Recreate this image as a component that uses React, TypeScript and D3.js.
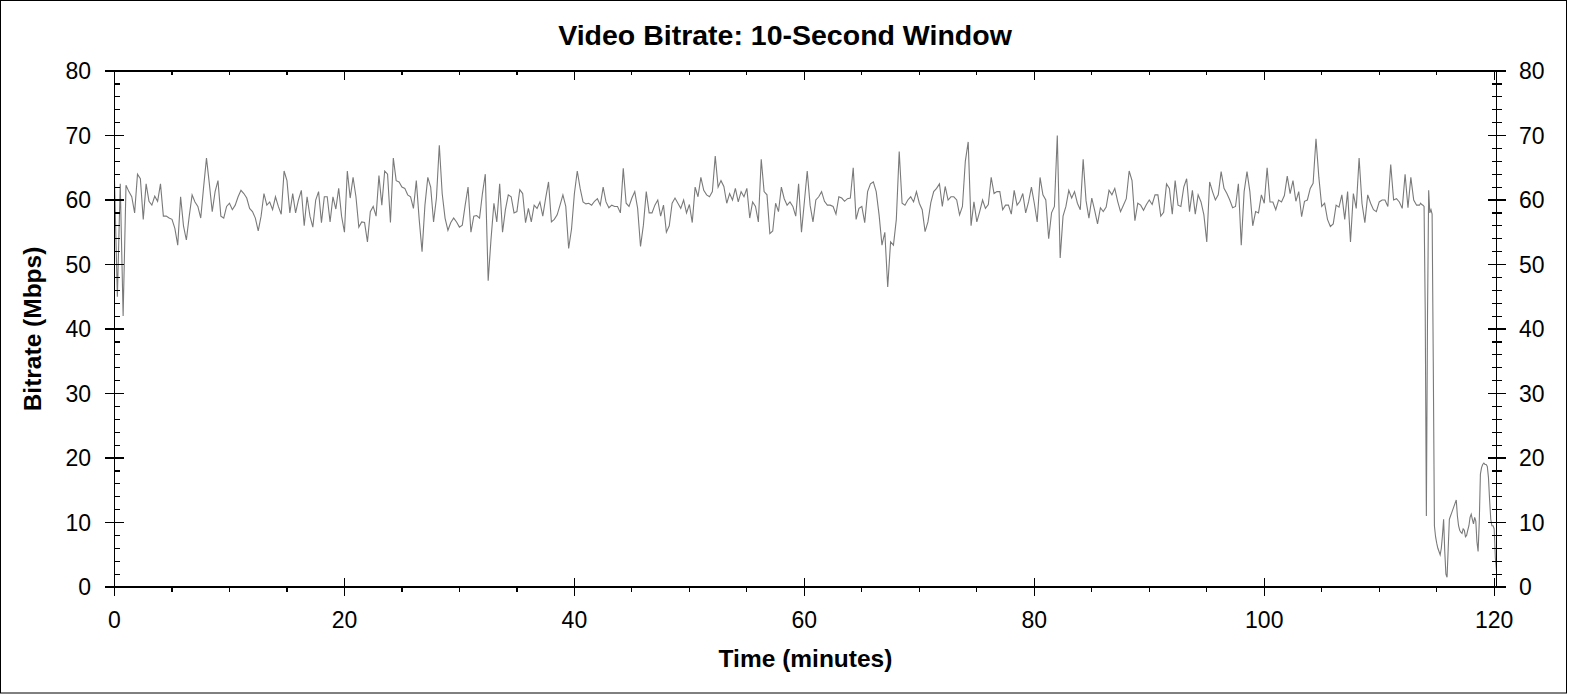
import React from 'react';
import * as d3 from 'd3';

// bitrate (Mbps), one reading every 0.25 min from 0 to 113.5 min
const mainStep = 0.25;
const mainValues = [
  63.0, 45.0, 62.5, 42.0, 62.3, 61.3, 60.5, 58.0, 64.0, 63.3,
  57.0, 62.5, 59.8, 59.2, 60.6, 59.8, 62.5, 57.5, 57.5, 57.2,
  57.0, 55.6, 53.0, 60.5, 56.0, 53.8, 57.5, 60.8, 59.7, 59.0,
  57.2, 62.0, 66.5, 62.5, 58.2, 61.3, 63.0, 57.5, 57.2, 59.0,
  59.5, 58.5, 59.2, 60.5, 61.5, 61.0, 60.3, 58.7, 58.2, 57.2,
  55.2, 57.5, 61.0, 59.2, 59.7, 58.5, 60.5, 59.0, 57.8, 64.5,
  63.0, 58.0, 61.0, 58.0, 60.0, 61.5, 56.0, 60.5, 57.5, 55.8,
  60.0, 61.3, 56.5, 60.5, 60.5, 56.6, 60.5, 58.6, 61.8, 57.5,
  55.0, 64.5, 60.3, 63.5, 60.5, 55.8, 56.6, 56.5, 53.5, 58.2,
  59.0, 57.5, 63.8, 59.2, 64.5, 64.0, 56.5, 66.5, 63.0, 62.8,
  62.0, 61.8, 60.8, 60.5, 58.7, 63.0, 57.0, 52.0, 59.2, 63.5,
  62.0, 56.6, 60.3, 68.5, 61.0, 57.2, 55.3, 56.5, 57.2, 56.6,
  55.8, 56.1, 59.2, 62.0, 55.0, 57.5, 57.6, 57.2, 61.0, 64.0,
  47.5, 54.0, 59.5, 56.6, 62.5, 55.0, 58.5, 60.8, 60.5, 58.0,
  58.2, 61.6, 61.0, 56.5, 58.7, 56.6, 59.2, 58.7, 59.7, 57.5,
  60.3, 62.8, 56.6, 57.0, 57.7, 59.2, 60.8, 59.0, 52.5, 55.5,
  61.0, 64.5, 61.8, 59.7, 59.4, 59.5, 59.2, 59.8, 60.2, 59.2,
  62.0, 59.7, 58.8, 59.2, 59.0, 59.0, 58.0, 64.9, 59.5, 59.0,
  60.3, 61.3, 58.7, 52.8, 56.1, 61.3, 58.0, 58.0, 59.2, 60.0,
  57.5, 59.2, 55.0, 56.0, 59.5, 60.3, 59.5, 58.7, 60.0, 58.0,
  59.3, 56.5, 62.0, 60.5, 63.5, 61.5, 60.8, 60.5, 61.3, 66.8,
  62.0, 63.0, 62.1, 59.5, 61.0, 60.0, 61.8, 59.7, 61.3, 60.5,
  61.8, 57.2, 59.7, 59.0, 56.6, 66.3, 61.3, 60.8, 54.8, 55.2,
  59.5, 58.2, 62.0, 60.2, 59.2, 59.7, 59.0, 57.5, 62.5, 55.0,
  59.7, 64.5, 59.2, 56.6, 60.0, 60.5, 61.3, 59.8, 59.2, 59.2,
  59.0, 57.8, 60.5, 60.3, 59.8, 60.2, 60.3, 65.0, 57.0, 58.7,
  59.0, 56.5, 61.3, 62.5, 62.8, 61.3, 57.7, 53.0, 55.0, 46.5,
  53.5, 53.0, 57.0, 67.5, 59.5, 59.2, 60.0, 60.5, 59.7, 61.3,
  59.5, 58.5, 55.1, 56.6, 59.6, 61.3, 61.8, 62.5, 59.0, 62.1,
  60.0, 60.5, 60.5, 60.0, 57.7, 59.0, 66.0, 69.0, 56.0, 59.7,
  56.6, 58.2, 60.0, 58.7, 59.3, 63.5, 61.0, 61.3, 61.3, 58.5,
  59.2, 59.2, 57.8, 61.5, 59.2, 59.8, 61.0, 58.0, 59.7, 62.0,
  59.5, 56.6, 63.5, 60.8, 60.0, 54.0, 58.0, 59.0, 70.0, 51.0,
  57.5, 59.0, 61.5, 60.3, 61.3, 59.5, 58.5, 66.3, 59.9, 57.2,
  60.3, 58.4, 56.3, 58.8, 58.2, 58.9, 61.5, 60.8, 61.8, 59.8,
  58.2, 59.2, 60.2, 64.5, 63.0, 56.8, 59.5, 59.2, 58.4, 59.3,
  60.0, 59.3, 60.8, 60.8, 57.5, 58.1, 62.5, 61.8, 57.8, 63.0,
  59.2, 59.0, 62.0, 63.3, 58.2, 61.5, 57.8, 60.8, 59.7, 57.7,
  53.5, 62.8, 61.3, 60.0, 60.8, 64.4, 61.8, 61.0, 60.0, 58.8,
  59.0, 62.5, 53.0, 61.3, 64.4, 61.3, 56.0, 58.2, 58.0, 60.8,
  59.5, 65.0, 59.7, 59.7, 58.5, 60.0, 59.7, 60.7, 63.7, 61.0,
  63.0, 59.8, 61.3, 57.4, 59.8, 60.0, 61.8, 62.6, 69.5, 63.5,
  59.0, 59.5, 57.0, 55.9, 56.3, 59.2, 58.9, 60.8, 57.0, 61.3,
  53.5, 61.0, 58.7, 66.5, 59.5, 56.5, 60.8, 59.5, 58.5, 58.2,
  59.7, 60.0, 60.0, 59.0, 65.5, 60.0, 60.2, 59.7, 58.7, 64.0,
  58.8, 63.5, 60.0, 59.2, 59.2,
];

// the end of the file drops off fast, so it is read at 0.1 min from 113.6 min
const tailStart = 113.6;
const tailStep = 0.1;
const tailValues = [
  59.5, 59.3, 59.2, 59.0, 43.0, 11.0, 42.0, 61.5, 58.0, 58.5,
  57.8, 35.0, 9.5, 7.8, 6.8, 6.0, 5.5, 5.0, 6.0, 8.0,
  10.5, 5.5, 2.0, 1.5, 6.0, 10.5, 11.0, 11.5, 12.0, 12.5,
  13.0, 13.5, 11.0, 9.5, 8.8, 8.5, 8.3, 9.0, 8.8, 7.8,
  8.0, 8.8, 9.5, 10.8, 11.3, 10.5, 9.8, 10.8, 10.2, 7.0,
  5.5, 10.0, 17.5, 18.5, 19.0, 19.2, 19.0, 19.0, 18.7, 17.0,
  13.5, 10.5, 9.5, 9.5, 9.0, 4.5, 2.5,
];

const xMajorTicks = [0, 20, 40, 60, 80, 100, 120];
const yMajorTicks = [0, 10, 20, 30, 40, 50, 60, 70, 80];

const font = '"Liberation Sans", Arial, sans-serif';

export default function App() {
  const width = 1570;
  const height = 695;
  const left = 114.5;
  const right = 1496.5;
  const top = 71;
  const bottom = 587;

  const x = d3.scaleLinear().domain([0, 120.2]).range([left, right]);
  const y = d3.scaleLinear().domain([0, 80]).range([bottom, top]);

  const points: [number, number][] = [
    ...mainValues.map((v, i) => [i * mainStep, v] as [number, number]),
    ...tailValues.map((v, i) => [tailStart + i * tailStep, v] as [number, number]),
  ];

  const line = d3
    .line<[number, number]>()
    .x((d) => x(d[0]))
    .y((d) => y(d[1]));

  const xMinor = d3.range(0, 121, 5).filter((t) => t % 20 !== 0);
  const yMinor = d3.range(0, 81, 2).filter((v) => v % 10 !== 0);

  return (
    <>
      <style>{'body{margin:0}'}</style>
      <svg width={width} height={height} style={{ display: 'block', background: '#fff' }}>
        <rect x={0.5} y={0.5} width={1566} height={692.5} fill="#fff" stroke="#000" />

        <text
          x={785}
          y={45}
          textAnchor="middle"
          fontFamily={font}
          fontWeight="bold"
          fontSize={28.5}
        >
          Video Bitrate: 10-Second Window
        </text>

        <path d={line(points) || ''} fill="none" stroke="#7a7a7a" strokeWidth={1.1} />

        {/* frame */}
        <g stroke="#000" strokeWidth={1.2} shapeRendering="crispEdges">
          <line x1={105} x2={1506} y1={top} y2={top} />
          <line x1={105} x2={1506} y1={bottom} y2={bottom} />
          <line x1={left} x2={left} y1={top} y2={bottom} />
          <line x1={right} x2={right} y1={top} y2={bottom} />

          {xMajorTicks.map((t) => (
            <g key={'xM' + t}>
              <line x1={x(t)} x2={x(t)} y1={bottom - 9} y2={bottom + 9} />
              <line x1={x(t)} x2={x(t)} y1={top} y2={top + 9} />
            </g>
          ))}
          {xMinor.map((t) => (
            <g key={'xm' + t}>
              <line x1={x(t)} x2={x(t)} y1={bottom} y2={bottom + 5} />
              <line x1={x(t)} x2={x(t)} y1={top} y2={top + 4} />
            </g>
          ))}
          {yMajorTicks.map((v) => (
            <g key={'yM' + v}>
              <line x1={105} x2={124} y1={y(v)} y2={y(v)} />
              <line x1={right - 9} x2={right + 9} y1={y(v)} y2={y(v)} />
            </g>
          ))}
          {yMinor.map((v) => (
            <g key={'ym' + v}>
              <line x1={left} x2={left + 5} y1={y(v)} y2={y(v)} />
              <line x1={right - 5} x2={right + 5} y1={y(v)} y2={y(v)} />
            </g>
          ))}
        </g>

        <g fontFamily={font} fontSize={23}>
          {xMajorTicks.map((t) => (
            <text key={'xl' + t} x={x(t)} y={628} textAnchor="middle">
              {t}
            </text>
          ))}
          {yMajorTicks.map((v) => (
            <text key={'yl' + v} x={91} y={y(v) + 8} textAnchor="end">
              {v}
            </text>
          ))}
          {yMajorTicks.map((v) => (
            <text key={'yr' + v} x={1519} y={y(v) + 8} textAnchor="start">
              {v}
            </text>
          ))}
        </g>

        <text
          x={(left + right) / 2}
          y={667}
          textAnchor="middle"
          fontFamily={font}
          fontWeight="bold"
          fontSize={24.5}
        >
          Time (minutes)
        </text>
        <text
          transform={`translate(41,${(top + bottom) / 2}) rotate(-90)`}
          textAnchor="middle"
          fontFamily={font}
          fontWeight="bold"
          fontSize={24.5}
        >
          Bitrate (Mbps)
        </text>
      </svg>
    </>
  );
}
